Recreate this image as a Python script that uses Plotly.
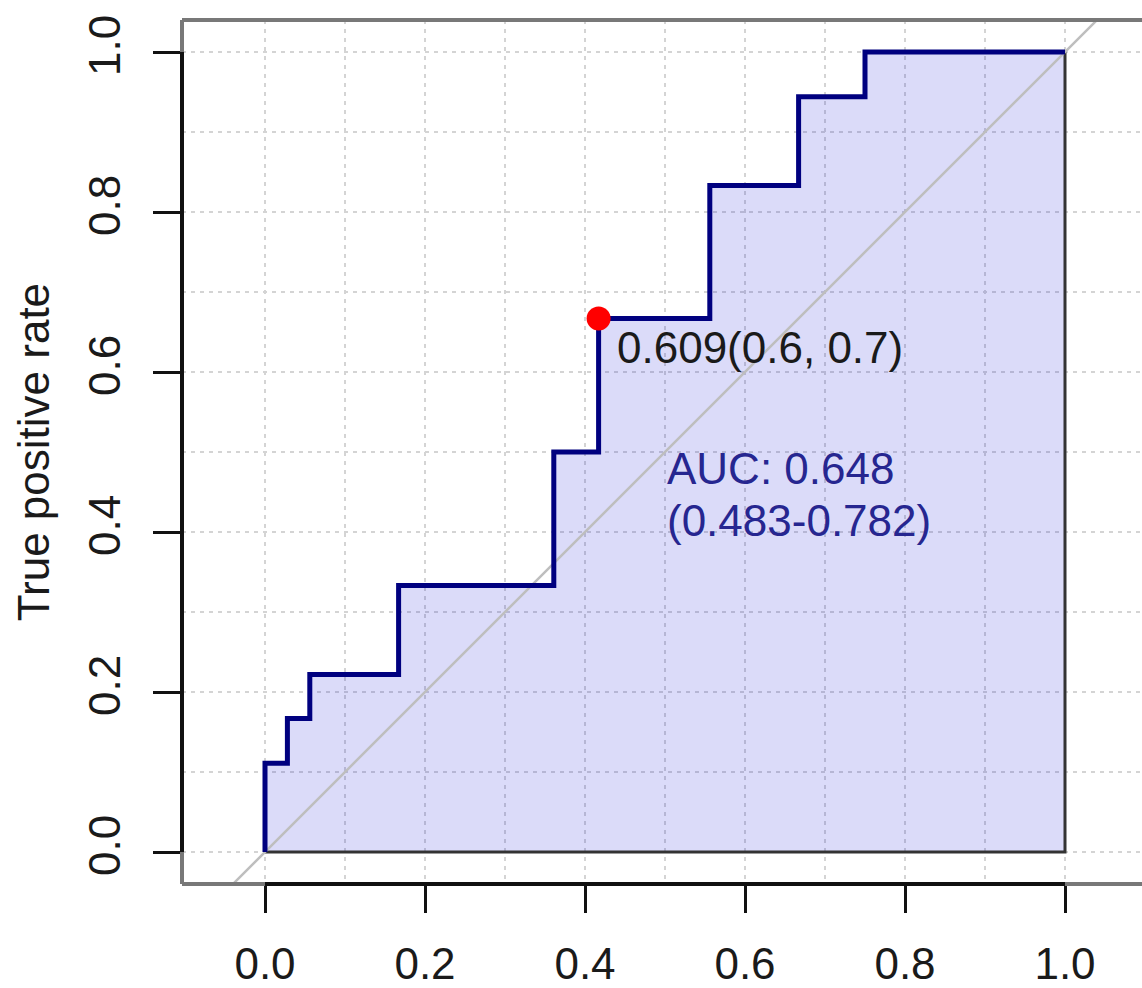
import plotly.graph_objects as go

# ROC curve corner points (false positive rate, true positive rate)
fpr = [0.0, 0.0, 0.028, 0.028, 0.056, 0.056, 0.167, 0.167, 0.361, 0.361,
       0.417, 0.417, 0.556, 0.556, 0.667, 0.667, 0.75, 0.75, 1.0]
tpr = [0.0, 0.111, 0.111, 0.167, 0.167, 0.222, 0.222, 0.333, 0.333, 0.5,
       0.5, 0.667, 0.667, 0.833, 0.833, 0.944, 0.944, 1.0, 1.0]

# Best threshold and its (specificity, sensitivity)
best_fpr = [0.417]
best_tpr = [0.667]
best_label = "0.609(0.6, 0.7)"

auc_line1 = "AUC: 0.648"
auc_line2 = "(0.483-0.782)"

tick_vals = [0.0, 0.2, 0.4, 0.6, 0.8, 1.0]
tick_text = ["0.0", "0.2", "0.4", "0.6", "0.8", "1.0"]
grid_minor = [0.1, 0.3, 0.5, 0.7, 0.9]

FONT = "Liberation Sans, Arial, sans-serif"
GRID = "rgb(212,212,212)"
NAVY = "#00007f"

fig = go.Figure()

# shaded AUC polygon
fig.add_trace(go.Scatter(
    x=fpr + [1.0, 0.0], y=tpr + [0.0, 0.0],
    mode="lines", fill="toself",
    fillcolor="rgba(0,0,215,0.14)",
    line=dict(color="#333333", width=3),
    hoverinfo="skip", showlegend=False))

# chance diagonal
fig.add_trace(go.Scatter(
    x=[-0.2, 1.2], y=[-0.2, 1.2], mode="lines",
    line=dict(color="rgb(190,190,190)", width=2.5),
    hoverinfo="skip", showlegend=False))

# ROC curve
fig.add_trace(go.Scatter(
    x=fpr, y=tpr, mode="lines",
    line=dict(color=NAVY, width=5),
    showlegend=False))

# best threshold point
fig.add_trace(go.Scatter(
    x=best_fpr, y=best_tpr, mode="markers",
    marker=dict(color="#ff0000", size=24, line=dict(width=0)),
    showlegend=False))

fig.add_annotation(x=best_fpr[0] + 0.02, y=best_tpr[0] - 0.036,
                   xref="x", yref="y", text=best_label, showarrow=False,
                   xanchor="left", yanchor="middle",
                   font=dict(family=FONT, size=44, color="#1a1a1a"))
fig.add_annotation(x=0.5, y=0.48, xref="x", yref="y", text=auc_line1,
                   showarrow=False, xanchor="left", yanchor="middle",
                   font=dict(family=FONT, size=44, color="#262690"))
fig.add_annotation(x=0.5, y=0.414, xref="x", yref="y", text=auc_line2,
                   showarrow=False, xanchor="left", yanchor="middle",
                   font=dict(family=FONT, size=44, color="#262690"))

# y-axis title
fig.add_annotation(x=-0.155, y=0.5, xref="paper", yref="y",
                   text="True positive rate", textangle=-90, showarrow=False,
                   xanchor="center", yanchor="middle",
                   font=dict(family=FONT, size=44, color="#1a1a1a"))

# plot frame (gray) and axis segments (black)
box = dict(color="rgb(120,120,120)", width=4)
fig.add_shape(type="line", xref="paper", yref="paper", x0=0, x1=1, y0=1, y1=1, line=box)
fig.add_shape(type="line", xref="paper", yref="paper", x0=0, x1=1, y0=0, y1=0, line=box)
fig.add_shape(type="line", xref="paper", yref="paper", x0=0, x1=0, y0=0, y1=1, line=box)
axis_line = dict(color="#111111", width=4)
fig.add_shape(type="line", xref="x", yref="paper", x0=0, x1=1, y0=0, y1=0, line=axis_line)
fig.add_shape(type="line", xref="paper", yref="y", x0=0, x1=0, y0=0, y1=1, line=axis_line)

axis_common = dict(
    tickvals=tick_vals, ticktext=tick_text,
    ticks="outside", ticklen=28, tickwidth=3, tickcolor="#111111",
    showline=False, zeroline=False, automargin=False,
    showgrid=True, gridcolor=GRID, gridwidth=2, griddash="4px,5px",
    minor=dict(tickvals=grid_minor, showgrid=True, gridcolor=GRID,
               gridwidth=2, griddash="4px,5px", ticks=""),
    tickfont=dict(family=FONT, size=44, color="#1a1a1a"),
    fixedrange=True,
)

fig.update_xaxes(range=[-0.10375, 1.09625], ticklabelstandoff=13, **axis_common)
fig.update_yaxes(range=[-0.04, 1.04], tickangle=-90, ticklabelstandoff=15, **axis_common)

fig.update_layout(
    width=1142, height=988,
    margin=dict(l=182, r=0, t=20, b=104),
    paper_bgcolor="white", plot_bgcolor="white",
    showlegend=False,
)

fig.write_html("out.html")
